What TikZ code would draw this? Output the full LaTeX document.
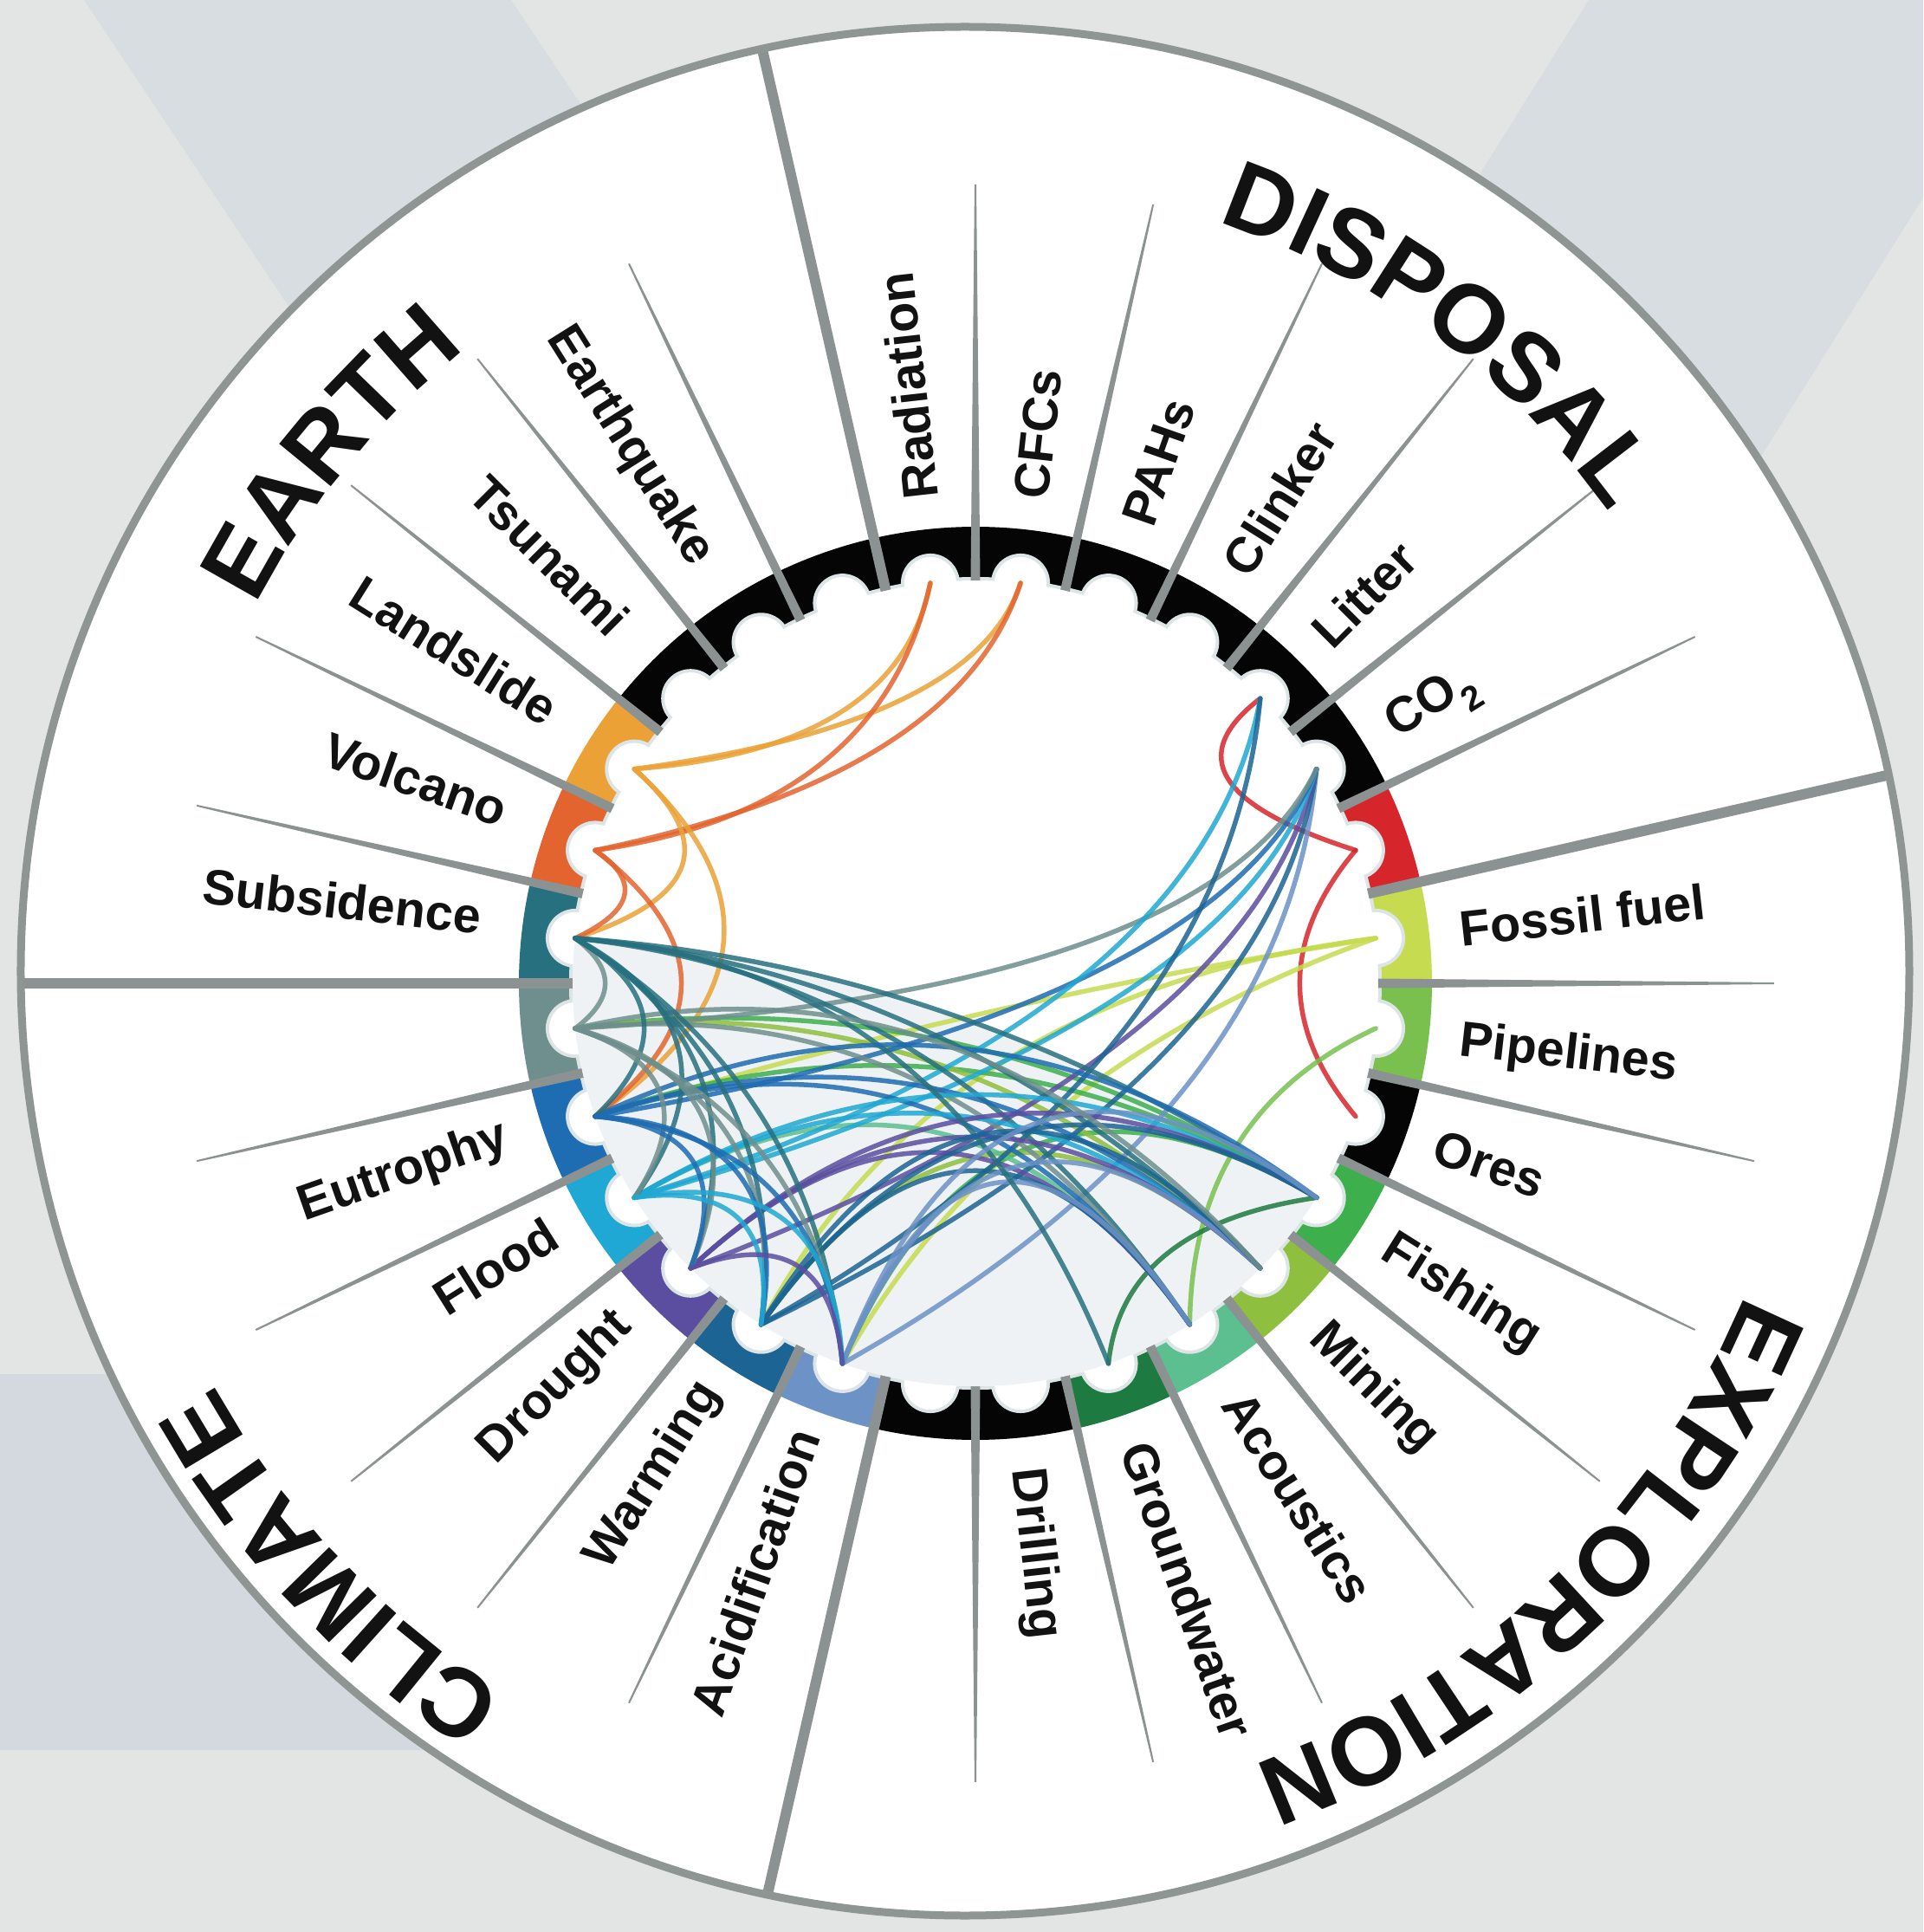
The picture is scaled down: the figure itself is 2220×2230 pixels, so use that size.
\documentclass[tikz,border=0pt]{standalone}
\usepackage{fontspec}
\setmainfont{Liberation Sans}
\usetikzlibrary{calc}
\definecolor{bgL}{HTML}{E3E4E4}
\definecolor{bgB}{HTML}{D8DDE1}
\definecolor{bgR}{HTML}{D3D9DF}
\definecolor{spk}{HTML}{8C9291}
\definecolor{bord}{HTML}{8E9593}
\definecolor{halo}{HTML}{DDE4E6}
\definecolor{haze}{HTML}{EEF2F4}
\definecolor{rK}{HTML}{050505}
\definecolor{cRed}{HTML}{D6262C}
\definecolor{cFos}{HTML}{C6DB4F}
\definecolor{cPip}{HTML}{79C04F}
\definecolor{cFis}{HTML}{3DAF4C}
\definecolor{cMin}{HTML}{8FBF3F}
\definecolor{cAco}{HTML}{5CBF8F}
\definecolor{cGro}{HTML}{1D7B41}
\definecolor{cAci}{HTML}{6C92C6}
\definecolor{cWar}{HTML}{1C6494}
\definecolor{cDro}{HTML}{5B4EA0}
\definecolor{cFlo}{HTML}{1FA8D3}
\definecolor{cEut}{HTML}{1E6CB2}
\definecolor{cBlg}{HTML}{6E8F8D}
\definecolor{cSub}{HTML}{27707F}
\definecolor{cVol}{HTML}{E3642F}
\definecolor{cLan}{HTML}{EBA136}
\newcommand\labfont{\fontsize{57.5}{60}\selectfont\bfseries}
\newcommand\ttlfont{\fontsize{112}{120}\selectfont\bfseries}
\tikzset{
  lab/.style={font=\labfont, inner sep=0pt, text height=41pt, text depth=0pt, text=black!93},
  ttl/.style={font=\ttlfont, inner sep=0pt, anchor=base, text=black!93},
  chordline/.style={line width=5.5, opacity=0.85, line cap=round},
}
\begin{document}
\begin{tikzpicture}[x=1pt,y=1pt]
\useasboundingbox (-1126,-1095) rectangle (1094,1135);
% background
\fill[bgL] (-1126,-1095) rectangle (1094,1135);
\fill[bgB] (-1029,1135) -- (-536,1135) -- (199,35) -- (-294,35) -- cycle;
\fill[bgB] (708,1135) -- (1094,1135) -- (1094,907) -- (548,35) -- (20,35) -- cycle;
\fill[bgR] (-1126,-451) rectangle (-126,-885);
\coordinate (O) at (0,0);
\coordinate (Op) at (-12,14);
\fill[white] (Op) circle (1090);
% coloured ring
\foreach \kk/\cl in {0/rK,1/rK,2/rK,3/rK,4/rK,5/rK,6/cRed,7/cFos,8/cPip,9/rK,10/cFis,11/cMin,12/cAco,13/cGro,14/rK,15/rK,16/cAci,17/cWar,18/cDro,19/cFlo,20/cEut,21/cBlg,22/cSub,23/cVol,24/cLan,25/rK,26/rK,27/rK}{
  \pgfmathsetmacro\angA{102.857143-12.857143*\kk+0.25}
  \pgfmathsetmacro\angB{90-12.857143*\kk-0.25}
  \fill[\cl] (\angA:455) arc[start angle=\angA,end angle=\angB,radius=455] -- (\angB:527) arc[start angle=\angB,end angle=\angA,radius=527] -- cycle;
}
% scalloped inner disc
\fill[halo] (O) circle (469);
\foreach \kk in {0,...,27} \fill[halo] ({96.428571-12.857143*\kk}:465) circle (34);
\fill[white] (O) circle (465);
\foreach \kk in {0,...,27} \fill[white] ({96.428571-12.857143*\kk}:465) circle (30);
% spokes
\begin{scope}
  \clip (Op) circle (1086);
  \foreach \jj in {6,15,21,27} \fill[spk,rotate={90-12.857143*\jj}] (465,-6) rectangle (1120,6);
\end{scope}
\foreach \jj in {0,1,2,3,4,5,7,8,9,10,11,12,13,14,16,17,18,19,20,22,23,24,25,26}
  \fill[spk,rotate={90-12.857143*\jj}] (465,-5.5) -- (922,-1) -- (922,1) -- (465,5.5) -- cycle;
% chord end points
\foreach \kk in {0,...,27} \coordinate (n\kk) at ({96.428571-12.857143*\kk}:465);
% light haze under the dense chords
\coordinate (hz) at ($0.1*(n22)+0.1*(n10)+(0,40)$);
\fill[haze] (n22) .. controls ($(n22)!0.6667!(hz)$) and ($(n10)!0.6667!(hz)$) .. (n10)
  arc[start angle=-32.142857,end angle=-186.428571,radius=465] -- cycle;
% chords
\foreach \fa/\fb/\cl/\kf/\dx/\dy in {
  24/0/cLan/0/-90/270, 24/1/cLan/0/0/300, 23/0/cVol/0/-110/200, 23/1/cVol/0/-20/240,
  24/22/cLan/0/-250/120, 23/22/cVol/0/-360/100, 24/20/cLan/0/-166/40, 23/20/cVol/0/-240/0,
  6/4/cRed/0/200/230, 6/9/cRed/0/310/0,
  7/20/cFos/0/0/-20, 7/17/cFos/0/-44/-11, 7/16/cFos/0/37/-100,
  8/12/cPip/0/250/-150, 13/10/cGro/0/170/-280,
  10/21/cFis/0.2/0/40, 10/20/cFis/0.2/0/40, 10/16/cFis/0.2/0/40,
  11/21/cMin/0.2/0/40, 11/17/cMin/0.2/0/40, 12/19/cAco/0.2/0/40,
  16/5/cAci/0/360/-150, 17/5/cWar/0/340/-110, 18/5/cDro/0/320/-80, 19/5/cFlo/0/300/-50,
  20/5/cEut/0/280/-30, 21/5/cBlg/0/270/-10, 19/4/cFlo/0/260/-40, 17/4/cWar/0/290/-90,
  22/10/cSub/0.2/0/40, 22/11/cSub/0.2/0/40, 22/12/cSub/0.2/0/40, 21/12/cBlg/0.2/0/40,
  20/11/cEut/0.2/0/40, 20/12/cEut/0.2/0/40, 19/10/cFlo/0.2/0/40, 19/11/cFlo/0.2/0/40,
  18/10/cDro/0.2/0/40, 18/11/cDro/0.2/0/40, 18/12/cDro/0.2/0/40, 17/10/cWar/0.2/0/40,
  17/12/cWar/0.2/0/40, 16/11/cAci/0.2/0/40, 16/12/cAci/0.2/0/40,
  22/13/cSub/0.2/0/60, 20/10/cEut/0.2/0/90, 17/11/cWar/0.2/0/90, 16/10/cAci/0.2/0/90, 21/11/cBlg/0.2/0/90,
  21/22/cBlg/0.85/0/0, 22/20/cSub/0.7/0/0, 22/19/cSub/0.6/0/0, 22/18/cSub/0.6/0/0,
  22/17/cSub/0.6/0/0, 22/16/cSub/0.6/0/0, 21/19/cBlg/0.7/0/0, 21/18/cBlg/0.6/0/0,
  21/17/cBlg/0.6/0/0, 21/16/cBlg/0.6/0/0, 20/18/cEut/0.7/0/0, 20/17/cEut/0.6/0/0,
  20/16/cEut/0.6/0/0, 19/17/cFlo/0.7/0/0, 19/16/cFlo/0.6/0/0, 18/16/cDro/0.7/0/0}{
  \pgfmathsetmacro\hk{\kf/2}
  \coordinate (cc) at ($\hk*(n\fa)+\hk*(n\fb)+(\dx,\dy)$);
  \draw[chordline,\cl] (n\fa) .. controls ($(n\fa)!0.6667!(cc)$) and ($(n\fb)!0.6667!(cc)$) .. (n\fb);
}
% item labels
\foreach \kk/\tx in {0/Radiation,1/CFCs,2/PAHs,3/Clinker,4/Litter,5/{CO\textsubscript{2}},7/Fossil fuel,8/Pipelines,9/Ores,10/Fishing,11/Mining,12/Acoustics,13/Groundwater,14/Drilling}{
  \pgfmathsetmacro\angA{96.428571-12.857143*\kk}
  \node[lab,anchor=west,rotate=\angA] (lab\kk) at (\angA:563) {\tx};
}
\foreach \kk/\tx in {16/Acidification,17/Warming,18/Drought,19/Flood,20/Eutrophy,22/Subsidence,23/Volcano,24/Landslide,25/Tsunami,26/Earthquake}{
  \pgfmathsetmacro\angA{96.428571-12.857143*\kk}
  \pgfmathsetmacro\angB{\angA-180}
  \node[lab,anchor=east,rotate=\angB] (lab\kk) at ($(Op)+(\angA:562)$) {\tx};
}
% group titles, letter by letter along arcs
\foreach \L/\A [count=\i] in {D/68.83,I/65.31,S/61.99,P/57.30,O/52.23,S/47.15,A/42.27,L/37.58}
  \node[ttl,rotate=\A-90] (tdis\i) at ($(Op)+(\A:913)$) {\L};
\foreach \L/\A [count=\i] in {E/150.42,A/145.59,R/140.56,T/135.91,H/131.27}
  \node[ttl,rotate=\A-90] (tear\i) at ($(Op)+(\A:921)$) {\L};
\foreach \L/\A [count=\i] in {E/-24.73,X/-29.12,P/-33.50,L/-37.71,O/-42.28,R/-47.22,A/-51.97,T/-56.36,I/-59.28,O/-62.76,N/-67.69}
  \node[ttl,rotate=\A-90] (texp\i) at ($(Op)+(\A:975)$) {\L};
\foreach \L/\A [count=\i] in {C/235.26,L/230.94,I/228.06,M/224.46,A/219.42,T/215.10,E/210.96}
  \node[ttl,rotate=\A-90] (tcli\i) at ($(Op)+(\A:990)$) {\L};
% outer border
\draw[bord,line width=9] (Op) circle (1090);
\end{tikzpicture}
\end{document}
